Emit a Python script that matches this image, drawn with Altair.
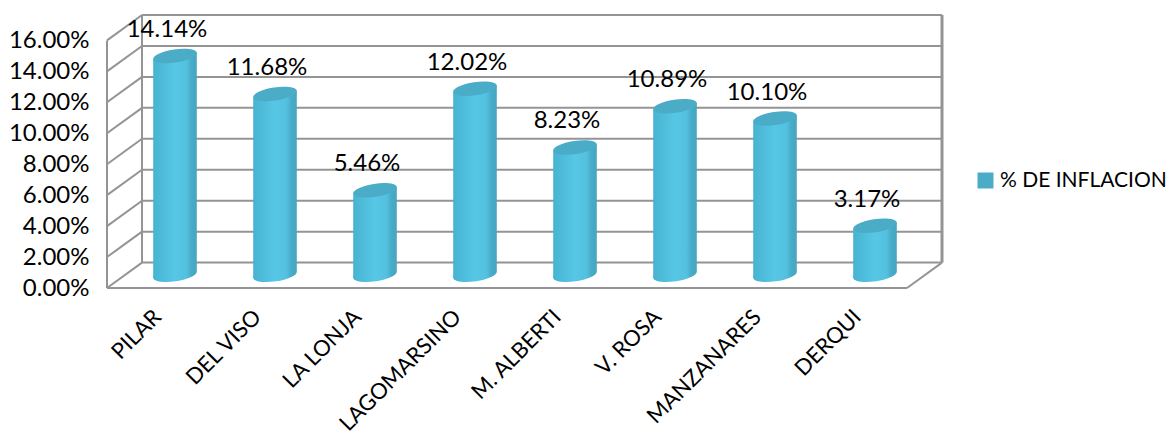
import altair as alt
import pandas as pd

categories = ["PILAR", "DEL VISO", "LA LONJA", "LAGOMARSINO", "M. ALBERTI", "V. ROSA", "MANZANARES", "DERQUI"]
values = [14.14, 11.68, 5.46, 12.02, 8.23, 10.89, 10.10, 3.17]
series_name = "% DE INFLACION"
ticks = [0, 2, 4, 6, 8, 10, 12, 14, 16]

FONT = "Lato"
W, H = 835, 273
DX = 0.35          # depth of the 3D box in category units
DY = 1.64          # depth of the 3D box in percent units
BASE = 0.85        # floor level of the cylinders
HALF = 0.218       # cylinder half width
CX = 0.18          # cylinder shift from the category centre
TILT = 0.21        # tilt of the cylinder ends
N = len(categories)

GRID = "#949494"
xscale = alt.Scale(domain=[0, N + DX], nice=False, zero=False)
yscale = alt.Scale(domain=[0, 16 + DY], nice=False, zero=False)
xaxis = alt.Axis(values=[i + 0.5 for i in range(N)],
                 labelExpr="%s[round(datum.value - 0.5)]" % (str(categories)),
                 title=None, domain=False, ticks=False, grid=False,
                 labelAngle=-45, labelAlign="right", labelBaseline="middle",
                 labelFont=FONT, labelFontSize=22, labelColor="#000000",
                 labelPadding=25, labelOverlap=False, labelBound=False, labelFlush=False)
yaxis = alt.Axis(values=ticks, labelExpr="format(datum.value / 100, '.2%')",
                 title=None, domain=False, ticks=False, grid=False,
                 labelFont=FONT, labelFontSize=24, labelColor="#000000",
                 labelPadding=18, labelOverlap=False, labelBound=False, labelFlush=False)
x = alt.X("x:Q", scale=xscale, axis=xaxis)
y = alt.Y("y:Q", scale=yscale, axis=yaxis)

grad = alt.Gradient(
    gradient="linear", x1=0, x2=1, y1=0, y2=0,
    stops=[
        alt.GradientStop(offset=0, color="#47b3d1"),
        alt.GradientStop(offset=0.5, color="#57c7e6"),
        alt.GradientStop(offset=0.76, color="#53c1df"),
        alt.GradientStop(offset=0.88, color="#47abc8"),
        alt.GradientStop(offset=1, color="#46a6c1"),
    ],
)
ELLIPSE = "M-1,0.15A1.011,0.3,-8.5,1,1,1,-0.15A1.011,0.3,-8.5,1,1,-1,0.15Z"
SIZE = (2 * HALF * 100) ** 2

frame = []
for t in ticks:
    frame.append(dict(x=DX, x2=N + DX, y=t + DY, y2=t + DY, w=2))   # back wall grid
    frame.append(dict(x=0, x2=DX, y=t, y2=t + DY, w=2))             # side wall grid
frame += [
    dict(x=DX, x2=DX, y=DY, y2=16 + DY, w=2),
    dict(x=N + DX, x2=N + DX, y=DY, y2=16 + DY, w=3),
    dict(x=0, x2=0, y=0, y2=16, w=2),
    dict(x=0, x2=N, y=0, y2=0, w=2),
    dict(x=N, x2=N + DX, y=0, y2=DY, w=2),
]
frame_df = pd.DataFrame(frame)

rows = pd.DataFrame({"name": categories, "v": values})
rows["x"] = [i + 0.5 + CX for i in range(N)]
rows["y"] = rows["v"] + BASE
rows["base"] = BASE
rows["series"] = series_name

body = []
for _, r in rows.iterrows():
    body.append(dict(name=r["name"], x=r["x"] - HALF, y=r["y"] - TILT, y2=BASE - TILT))
    body.append(dict(name=r["name"], x=r["x"] + HALF, y=r["y"] + TILT, y2=BASE + TILT))
body_df = pd.DataFrame(body)

lines = alt.Chart(frame_df).mark_rule(color=GRID).encode(
    x=x, x2="x2:Q", y=y, y2="y2:Q",
    strokeWidth=alt.StrokeWidth("w:Q", scale=None),
)

bottom = alt.Chart(rows).mark_point(shape=ELLIPSE, size=SIZE, filled=True, fill=grad, opacity=1, strokeWidth=0).encode(
    x=x, y=alt.Y("base:Q", scale=yscale, axis=yaxis))

cyl = alt.Chart(body_df).mark_area(fill=grad, opacity=1, interpolate="linear").encode(
    x=x, y=y, y2="y2:Q", detail="name:N")

top = alt.Chart(rows).mark_point(shape=ELLIPSE, size=SIZE, filled=True, opacity=1, strokeWidth=0).encode(
    x=x, y=y,
    color=alt.Color("series:N", scale=alt.Scale(range=["#4aacc7"]),
                    legend=alt.Legend(title=None, orient="none", legendX=868, legendY=155,
                                      symbolType="square", symbolSize=256, symbolStrokeWidth=0,
                                      labelFont=FONT, labelFontSize=21, labelColor="#000000",
                                      labelOffset=4, labelLimit=300)),
)

labels = alt.Chart(rows).transform_calculate(lab="format(datum.v / 100, '.2%')").mark_text(
    font=FONT, fontSize=24, color="#000000", baseline="middle", align="center", dx=-8, dy=-26
).encode(x=x, y=y, text="lab:N")

chart = alt.layer(lines, bottom, cyl, top, labels).properties(
    width=W, height=H,
    padding={"left": 99, "top": 7, "right": 226, "bottom": 148},
    autosize=alt.AutoSizeParams(type="none"),
    background="#ffffff",
).configure_view(stroke=None)

chart.save("out.html", embed_options={"renderer": "svg", "actions": False})
